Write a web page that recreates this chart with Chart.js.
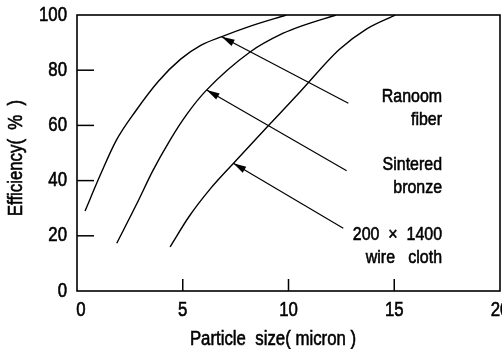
<!DOCTYPE html>
<html><head><meta charset="utf-8">
<script src="https://cdn.jsdelivr.net/npm/chart.js@4"></script>
<style>
html,body{margin:0;padding:0;overflow:hidden;background:#fff;}
#wrap{width:520px;height:349px;position:relative;}
</style></head><body>
<div id="wrap"><canvas id="c"></canvas></div>
<script>
// ---- data ----
const xTicks = [0, 5, 10, 15, 20];
const yTicks = [0, 20, 40, 60, 80, 100];

const fiberX = [0.38, 1.1, 1.85, 2.8, 3.85, 4.9, 5.85, 6.85, 8.2, 9.9];
const fiberY = [29, 42, 54.5, 65.5, 76, 84, 89, 92.2, 96, 100];

const bronzeX = [1.88, 2.82, 3.6, 4.4, 5.19, 6.1, 8.2, 9.75, 10.6, 12.25];
const bronzeY = [17.3, 31.5, 43.8, 54.7, 64, 72.6, 86.7, 93.4, 96, 100];

const wireX = [4.4, 5.3, 6.3, 7.4, 9.0, 10.55, 12.4, 13.7, 15.05];
const wireY = [16, 27, 37, 46.3, 59.5, 72.2, 87.5, 95, 100];

// arrows: tail (near label) -> tip (on curve)
const arrowTailX = [12.83, 12.75, 12.59];
const arrowTailY = [68, 43.6, 22.7];
const arrowTipX = [6.84, 6.13, 7.39];
const arrowTipY = [92.1, 72.8, 46.3];

const labelLines = [["Ranoom", "fiber"], ["Sintered", "bronze"], ["200  ×  1400", "wire   cloth"]];
const xTitle = "Particle  size( micron )";
const yTitle = "Efficiency(  %  )";

// ---- styling / layout (not data) ----
const FONT = '"Liberation Sans", Arial, sans-serif';
const SX = 0.84; // horizontal condensing of the lettering
const layoutCfg = {
  labelRightX: 17.26,
  labelLineY: [[70.3, 62], [45.7, 37.3], [20.3, 12]]
};

const pts = (xs, ys) => xs.map((x, i) => ({x: x, y: ys[i]}));
const curveStyle = {borderColor: '#000', borderWidth: 1.4, pointRadius: 0, fill: false, cubicInterpolationMode: 'monotone'};
const arrowStyle = {borderColor: '#000', borderWidth: 1.2, pointRadius: 0, fill: false, tension: 0};

const datasets = [
  Object.assign({label: 'Random fiber', data: pts(fiberX, fiberY)}, curveStyle),
  Object.assign({label: 'Sintered bronze', data: pts(bronzeX, bronzeY)}, curveStyle),
  Object.assign({label: '200x1400 wire cloth', data: pts(wireX, wireY)}, curveStyle)
];
arrowTailX.forEach((tx, i) => {
  datasets.push(Object.assign({label: 'arrow' + i, data: [{x: tx, y: arrowTailY[i]}, {x: arrowTipX[i], y: arrowTipY[i]}]}, arrowStyle));
});

function txt(ctx, s, x, y, align, size, rot) {
  ctx.save();
  ctx.translate(x, y);
  if (rot) ctx.rotate(rot);
  ctx.scale(SX, 1);
  ctx.font = size + 'px ' + FONT;
  ctx.textAlign = align;
  ctx.textBaseline = 'middle';
  ctx.lineWidth = 0.6;
  ctx.fillText(s, 0, 0);
  ctx.strokeText(s, 0, 0);
  ctx.restore();
}

const decor = {
  id: 'decor',
  afterDatasetsDraw(chart) {
    const ctx = chart.ctx, a = chart.chartArea;
    const xs = chart.scales.x, ys = chart.scales.y;
    ctx.save();
    ctx.strokeStyle = '#000';
    ctx.fillStyle = '#000';
    // frame
    ctx.lineWidth = 1.6;
    ctx.strokeRect(a.left, a.top, a.right - a.left, a.bottom - a.top);
    // inward ticks
    ctx.lineWidth = 1.5;
    yTicks.slice(1, -1).forEach(v => {
      const y = ys.getPixelForValue(v);
      ctx.beginPath(); ctx.moveTo(a.left, y); ctx.lineTo(a.left + 17, y); ctx.stroke();
    });
    xTicks.slice(1, -1).forEach(v => {
      const x = xs.getPixelForValue(v);
      ctx.beginPath(); ctx.moveTo(x, a.bottom); ctx.lineTo(x, a.bottom - 12); ctx.stroke();
    });
    // tick labels
    yTicks.forEach(v => txt(ctx, String(v), a.left - 10, ys.getPixelForValue(v), 'right', 20));
    xTicks.forEach(v => txt(ctx, String(v), xs.getPixelForValue(v) + (v === 0 ? 4 : 0), 310, 'center', 20));
    // arrowheads
    arrowTailX.forEach((tx, i) => {
      const x0 = xs.getPixelForValue(tx), y0 = ys.getPixelForValue(arrowTailY[i]);
      const x1 = xs.getPixelForValue(arrowTipX[i]), y1 = ys.getPixelForValue(arrowTipY[i]);
      const dx = x1 - x0, dy = y1 - y0, len = Math.hypot(dx, dy);
      const ux = dx / len, uy = dy / len, nx = -uy, ny = ux;
      const L = 13, w = 3.5;
      ctx.beginPath();
      ctx.moveTo(x1, y1);
      ctx.lineTo(x1 - L * ux + w * nx, y1 - L * uy + w * ny);
      ctx.lineTo(x1 - L * ux - w * nx, y1 - L * uy - w * ny);
      ctx.closePath(); ctx.fill();
    });
    // labels
    const lx = xs.getPixelForValue(layoutCfg.labelRightX);
    labelLines.forEach((lines, i) => {
      lines.forEach((t, j) => txt(ctx, t, lx, ys.getPixelForValue(layoutCfg.labelLineY[i][j]), 'right', 19));
    });
    // axis titles
    txt(ctx, xTitle, 273, 339, 'center', 20);
    txt(ctx, yTitle, 16, 158, 'center', 20, -Math.PI / 2);
    ctx.restore();
  }
};

new Chart(document.getElementById('c'), {
  type: 'line',
  data: {datasets: datasets},
  options: {
    responsive: true,
    maintainAspectRatio: false,
    animation: false,
    layout: {padding: {top: 15, right: 20, bottom: 0, left: 0}},
    plugins: {legend: {display: false}, tooltip: {enabled: false}},
    scales: {
      x: {
        type: 'linear', min: 0, max: 20,
        afterBuildTicks: s => { s.ticks = xTicks.map(v => ({value: v})); },
        afterFit: s => { s.height = 58; },
        grid: {display: false, drawTicks: false},
        border: {display: false},
        ticks: {display: false}
      },
      y: {
        type: 'linear', min: 0, max: 100,
        afterBuildTicks: s => { s.ticks = yTicks.map(v => ({value: v})); },
        afterFit: s => { s.width = 77; },
        grid: {display: false, drawTicks: false},
        border: {display: false},
        ticks: {display: false}
      }
    }
  },
  plugins: [decor]
});
</script>
</body></html>
